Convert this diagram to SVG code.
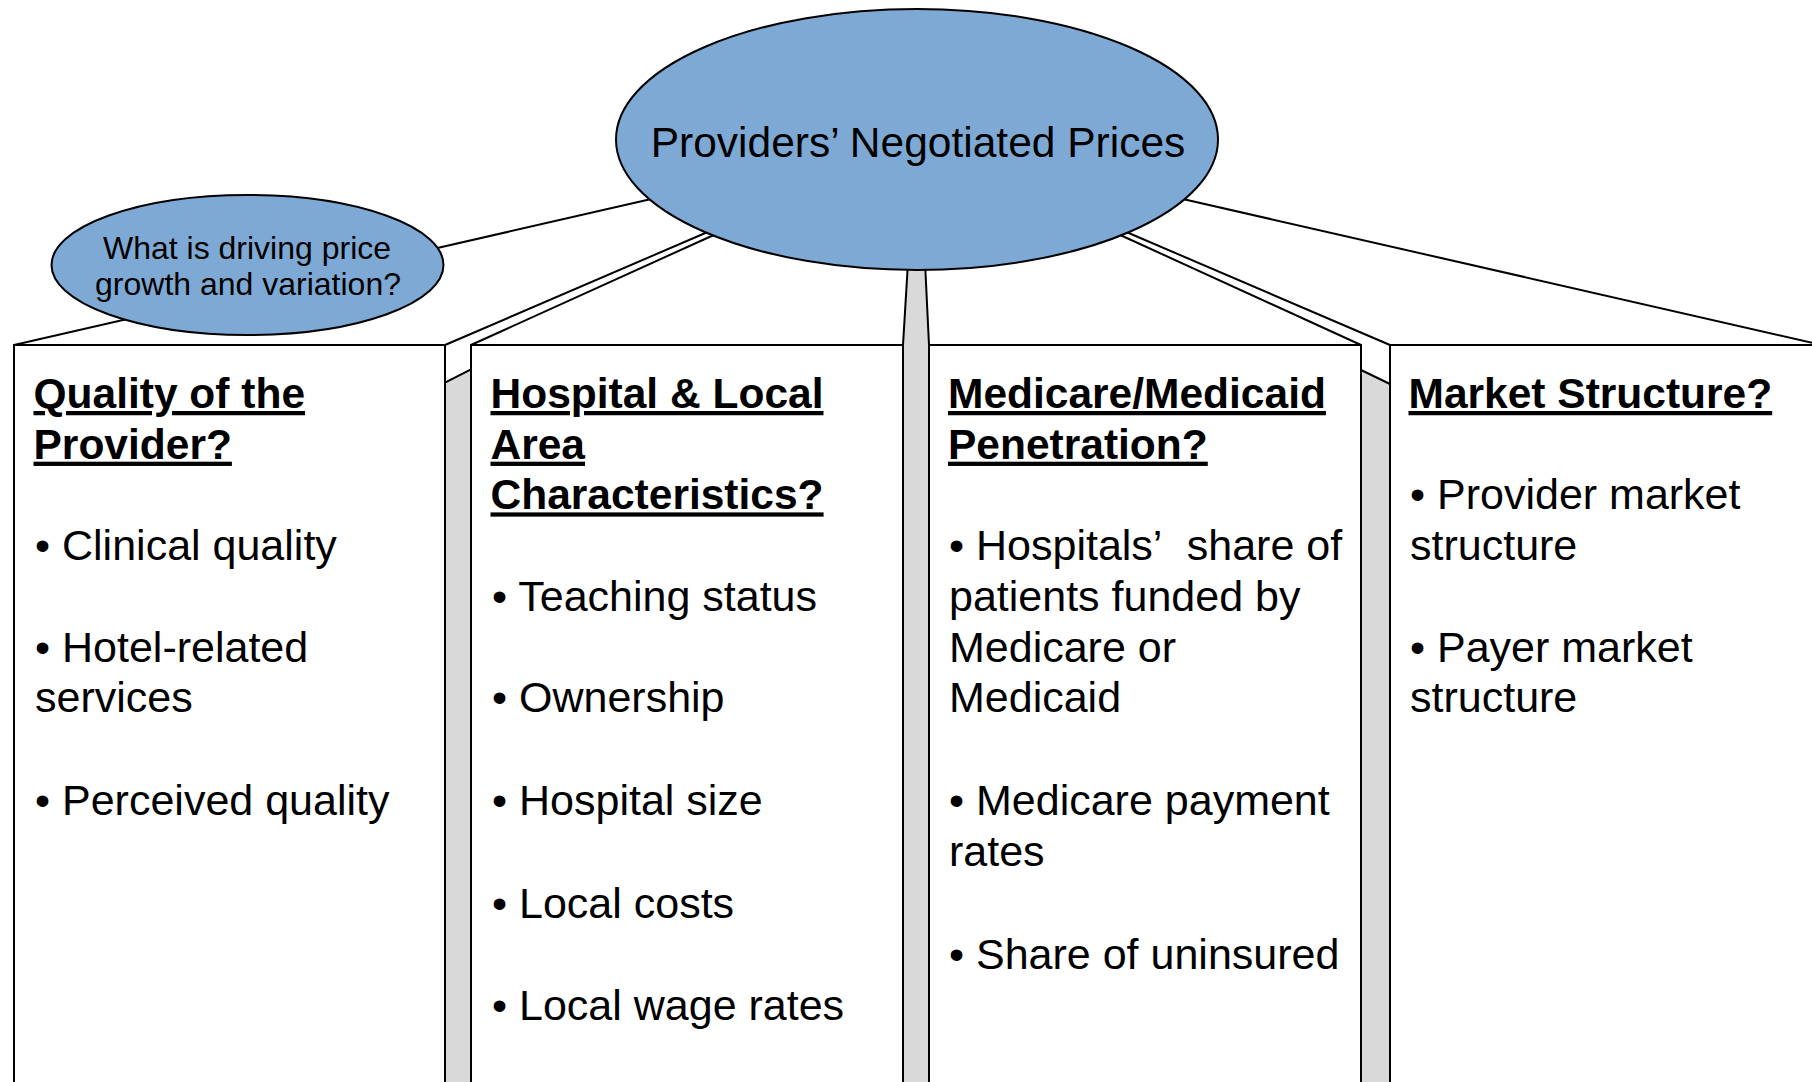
<svg xmlns="http://www.w3.org/2000/svg" width="1812" height="1082" viewBox="0 0 1812 1082">
<style>
.ln{stroke:#000;stroke-width:2;fill:none}
.gray{fill:#d9d9d9;stroke:#000;stroke-width:2}
.box{fill:#fff;stroke:#000;stroke-width:2}
.ell{fill:#7ea9d4;stroke:#000;stroke-width:2}
text{font-family:"Liberation Sans",Arial,sans-serif;fill:#000}
.t{font-size:42.5px;font-weight:bold;text-decoration:underline}
.b{font-size:43px}
.c{text-anchor:middle}
</style>
<rect width="1812" height="1082" fill="#fff"/>
<g id="connectors">
  <line class="ln" x1="14" y1="345" x2="660" y2="197"/>
  <line class="ln" x1="1822" y1="345" x2="1174" y2="197"/>
  <line class="ln" x1="445" y1="345" x2="710" y2="231"/>
  <line class="ln" x1="471" y1="345" x2="716" y2="234"/>
  <line class="ln" x1="1390" y1="345" x2="1124" y2="231"/>
  <line class="ln" x1="1361" y1="345" x2="1118" y2="234"/>
  <polygon class="gray" points="445,382.7 471,369.3 471,1100 445,1100"/>
  <polygon class="gray" points="1361,370 1390,384 1390,1100 1361,1100"/>
  <polygon class="gray" points="908,262 925,262 929,345 929,1100 903,1100 903,345"/>
</g>
<g id="box-quality">
  <path class="box" d="M14,1100 V345 H445 V1100"/>
  <text class="t" x="33.5" y="408">Quality of the</text>
  <text class="t" x="33.5" y="458.7">Provider?</text>
  <text class="b" x="35" y="560">• Clinical quality</text>
  <text class="b" x="35" y="661.5">• Hotel-related</text>
  <text class="b" x="35" y="712">services</text>
  <text class="b" x="35" y="814.5">• Perceived quality</text>
</g>
<g id="box-hospital">
  <path class="box" d="M471,1100 V345 H903 V1100"/>
  <text class="t" x="490.5" y="408">Hospital &amp; Local</text>
  <text class="t" x="490.5" y="458.7">Area</text>
  <text class="t" x="490.5" y="509.4">Characteristics?</text>
  <text class="b" x="492" y="610.8">• Teaching status</text>
  <text class="b" x="492" y="712">• Ownership</text>
  <text class="b" x="492" y="814.5">• Hospital size</text>
  <text class="b" x="492" y="917.5">• Local costs</text>
  <text class="b" x="492" y="1020">• Local wage rates</text>
</g>
<g id="box-medicare">
  <path class="box" d="M929,1100 V345 H1361 V1100"/>
  <text class="t" x="948" y="408">Medicare/Medicaid</text>
  <text class="t" x="948" y="458.7">Penetration?</text>
  <text class="b" x="949" y="560">• Hospitals’<tspan dx="14"> share of</tspan></text>
  <text class="b" x="949" y="610.8">patients funded by</text>
  <text class="b" x="949" y="661.5">Medicare or</text>
  <text class="b" x="949" y="712">Medicaid</text>
  <text class="b" x="949" y="814.5">• Medicare payment</text>
  <text class="b" x="949" y="865.5">rates</text>
  <text class="b" x="949" y="968.5">• Share of uninsured</text>
</g>
<g id="box-market">
  <path class="box" d="M1390,1100 V345 H1822 V1100"/>
  <text class="t" x="1408.5" y="408">Market Structure?</text>
  <text class="b" x="1410" y="509.4">• Provider market</text>
  <text class="b" x="1410" y="560">structure</text>
  <text class="b" x="1410" y="661.5">• Payer market</text>
  <text class="b" x="1410" y="712">structure</text>
</g>
<g id="node-question">
  <ellipse class="ell" cx="247.5" cy="265" rx="196" ry="70"/>
  <text class="c" x="247" y="259" font-size="32">What is driving price</text>
  <text class="c" x="248" y="295" font-size="32">growth and variation?</text>
</g>
<g id="node-prices">
  <ellipse class="ell" cx="917" cy="139.5" rx="301" ry="130.5"/>
  <text class="c" x="918" y="157" font-size="42.5">Providers’ Negotiated Prices</text>
</g>
</svg>
